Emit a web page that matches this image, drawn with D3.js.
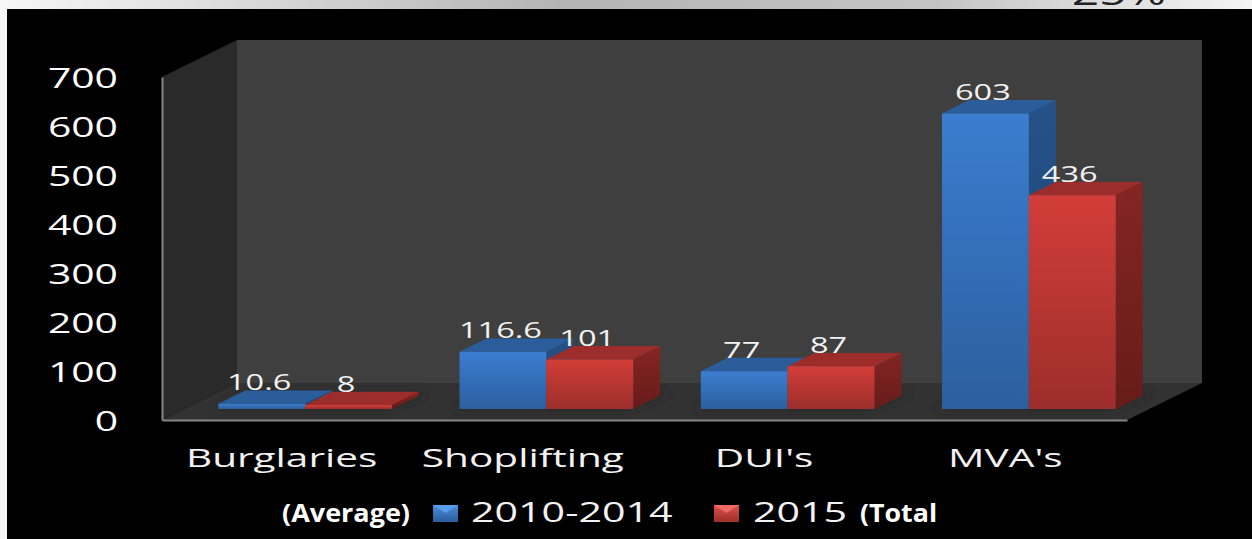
<!DOCTYPE html>
<html>
<head>
<meta charset="utf-8">
<script src="https://cdn.jsdelivr.net/npm/d3@7"></script>
<style>
    html, body { margin: 0; padding: 0; background: #000; overflow: hidden; }
    text { font-family: "Open Sans", sans-serif; }
</style>
</head>
<body>
<div id="chart"></div>
<script>
var categories = ["Burglaries", "Shoplifting", "DUI's", "MVA's"];
var seriesNames = ["2010-2014", "2015"];
var averages = [10.6, 116.6, 77, 603];
var totals = [8, 101, 87, 436];
var yTicks = [0, 100, 200, 300, 400, 500, 600, 700];

var svgWidth = 1252;
var svgHeight = 539;

var svg = d3.select("#chart")
    .append("svg")
    .attr("width", svgWidth)
    .attr("height", svgHeight)
    .style("display", "block");

var defs = svg.append("defs");

function linear(id, x2, y2, stops) {
    var g = defs.append("linearGradient").attr("id", id)
        .attr("x1", 0).attr("y1", 0).attr("x2", x2).attr("y2", y2);
    stops.forEach(function (s) {
        g.append("stop").attr("offset", s[0]).attr("stop-color", s[1]);
    });
}

linear("topBand", 1, 0, [[0, "#f6f6f6"], [0.45, "#b4b4b4"], [0.75, "#c4c4c4"], [1, "#f4f4f4"]]);
linear("blueFront", 0, 1, [[0, "#3b7dd0"], [1, "#2c5f9e"]]);
linear("redFront", 0, 1, [[0, "#d33d39"], [1, "#9c2e2b"]]);
linear("blueSide", 0, 1, [[0, "#265289"], [1, "#1d4270"]]);
linear("redSide", 0, 1, [[0, "#852522"], [1, "#661c1a"]]);
linear("blueKey", 0, 1, [[0, "#4a8ee0"], [1, "#2b5c9a"]]);
linear("redKey", 0, 1, [[0, "#e0504c"], [1, "#9c2e2b"]]);

defs.append("filter").attr("id", "soft")
    .attr("x", "-20%").attr("y", "-60%").attr("width", "140%").attr("height", "220%")
    .append("feGaussianBlur").attr("stdDeviation", 4);

// Slide frame behind the chart
svg.append("rect").attr("width", svgWidth).attr("height", svgHeight).attr("fill", "#000");
svg.append("rect").attr("width", 7).attr("height", svgHeight).attr("fill", "#f6f6f6");
svg.append("rect").attr("width", svgWidth).attr("height", 9).attr("fill", "url(#topBand)");

// Only the bottom of this slide heading is inside the crop
var heading = svg.append("text")
    .attr("x", 1119).attr("y", 5)
    .attr("text-anchor", "middle")
    .attr("font-size", 32)
    .attr("fill", "#222")
    .text("25%");

// Scales: the front plane of the box, plus how far depth shifts a point
var x = d3.scaleBand()
    .domain(categories)
    .range([162, 1127])
    .paddingInner(0.28)
    .paddingOuter(0.14);

var xSeries = d3.scaleBand()
    .domain(seriesNames)
    .range([0, x.bandwidth()]);

var y = d3.scaleLinear()
    .domain([0, 700])
    .range([420, 77]);

var depthX = d3.scaleLinear().domain([0, 1]).range([0, 75]);
var depthY = d3.scaleLinear().domain([0, 1]).range([0, -37]);

function pt(px, value, depth) {
    return [px + depthX(depth), y(value) + depthY(depth)];
}

function poly(points) {
    return points.map(function (p) { return p.join(","); }).join(" ");
}

var x0 = x.range()[0];
var x1 = x.range()[1];
var yMax = y.domain()[1];

var box = svg.append("g");

// Back wall
box.append("polygon")
    .attr("points", poly([pt(x0, 0, 1), pt(x1, 0, 1), pt(x1, yMax, 1), pt(x0, yMax, 1)]))
    .attr("fill", "#3f3f3f");

// Left wall
box.append("polygon")
    .attr("points", poly([pt(x0, 0, 0), pt(x0, 0, 1), pt(x0, yMax, 1), pt(x0, yMax, 0)]))
    .attr("fill", "#2a2a2a");

// Floor
box.append("polygon")
    .attr("points", poly([pt(x0, 0, 0), pt(x1, 0, 0), pt(x1, 0, 1), pt(x0, 0, 1)]))
    .attr("fill", "#323232");

var barFrom = 0.3;
var barTo = 0.66;

// Soft shadows on the floor
var shadows = svg.append("g").attr("filter", "url(#soft)");
categories.forEach(function (c) {
    var left = x(c);
    var right = x(c) + x.bandwidth();
    shadows.append("polygon")
        .attr("points", poly([pt(left - 8, 0, barFrom), pt(right - 6, 0, barFrom), pt(right + 4, 0, barTo + 0.08), pt(left + 2, 0, barTo + 0.08)]))
        .attr("fill", "#272727");
});

// Axes
var yAxis = svg.append("g")
    .attr("transform", `translate(${x0}, 0)`)
    .call(d3.axisLeft(y).tickValues(yTicks).tickSize(0).tickPadding(44));

var xAxis = svg.append("g")
    .attr("transform", `translate(0, ${y(0)})`)
    .call(d3.axisBottom(x).tickSize(0).tickSizeOuter(0));

svg.selectAll(".domain")
    .attr("stroke", "#858585")
    .attr("stroke-width", 2);

function stretch(selection, k) {
    selection
        .attr("textLength", function () { return this.getComputedTextLength() * k; })
        .attr("lengthAdjust", "spacingAndGlyphs");
}

yAxis.selectAll("text")
    .attr("dy", "0.39em")
    .attr("font-size", 28)
    .attr("fill", "#fff")
    .call(stretch, 1.46);

xAxis.selectAll("text")
    .attr("x", -1)
    .attr("y", 47)
    .attr("dy", 0)
    .attr("font-size", 26)
    .attr("fill", "#f2f2f2")
    .call(stretch, 1.56);

// Bars, left to right so each red bar overlaps the blue side face
var barRows = [];
categories.forEach(function (c, i) {
    barRows.push({ category: c, series: seriesNames[0], value: averages[i], front: "url(#blueFront)", side: "url(#blueSide)", top: "#2b5d9b" });
    barRows.push({ category: c, series: seriesNames[1], value: totals[i], front: "url(#redFront)", side: "url(#redSide)", top: "#9d2d2a" });
});

var bars = svg.selectAll(".bar")
    .data(barRows)
    .enter()
    .append("g")
    .attr("class", "bar");

function barLeft(d) { return x(d.category) + xSeries(d.series); }
function barRight(d) { return barLeft(d) + xSeries.bandwidth(); }

bars.append("polygon")
    .attr("points", function (d) {
        return poly([pt(barRight(d), 0, barFrom), pt(barRight(d), 0, barTo), pt(barRight(d), d.value, barTo), pt(barRight(d), d.value, barFrom)]);
    })
    .attr("fill", function (d) { return d.side; });

bars.append("polygon")
    .attr("points", function (d) {
        return poly([pt(barLeft(d), d.value, barFrom), pt(barRight(d), d.value, barFrom), pt(barRight(d), d.value, barTo), pt(barLeft(d), d.value, barTo)]);
    })
    .attr("fill", function (d) { return d.top; });

bars.append("polygon")
    .attr("points", function (d) {
        return poly([pt(barLeft(d), 0, barFrom), pt(barRight(d), 0, barFrom), pt(barRight(d), d.value, barFrom), pt(barLeft(d), d.value, barFrom)]);
    })
    .attr("fill", function (d) { return d.front; });

// Value labels sit just over the back edge of each bar top
svg.selectAll(".value")
    .data(barRows)
    .enter()
    .append("text")
    .attr("class", "value")
    .attr("x", function (d) { return pt(barLeft(d) + xSeries.bandwidth() / 2 - 2.5, d.value, barFrom)[0]; })
    .attr("y", function (d) { return pt(0, d.value, barTo)[1]; })
    .attr("text-anchor", "middle")
    .attr("font-size", 21)
    .attr("fill", "#f2f2f2")
    .text(function (d) { return d.value; })
    .call(stretch, 1.55);

// Legend
var legendY = 522;
var keys = [
    { name: seriesNames[0], fill: "url(#blueKey)", flap: "#5a9cec", keyX: 433, textX: 471 },
    { name: seriesNames[1], fill: "url(#redKey)", flap: "#ef6a64", keyX: 714, textX: 753 }
];

var legend = svg.selectAll(".key")
    .data(keys)
    .enter()
    .append("g")
    .attr("class", "key");

legend.append("rect")
    .attr("x", function (d) { return d.keyX; })
    .attr("y", legendY - 17)
    .attr("width", 25)
    .attr("height", 17)
    .attr("fill", function (d) { return d.fill; });

legend.append("polygon")
    .attr("points", function (d) {
        return poly([[d.keyX, legendY - 17], [d.keyX + 25, legendY - 17], [d.keyX + 12.5, legendY - 9]]);
    })
    .attr("fill", function (d) { return d.flap; });

legend.append("text")
    .attr("x", function (d) { return d.textX; })
    .attr("y", legendY)
    .attr("font-size", 28)
    .attr("fill", "#f2f2f2")
    .text(function (d) { return d.name; })
    .call(stretch, 1.47);

// Text boxes laid over the legend on the original slide
svg.append("text")
    .attr("x", 282).attr("y", legendY)
    .attr("font-size", 25)
    .attr("font-weight", 700)
    .attr("fill", "#fff")
    .text("(Average)")
    .call(stretch, 1.08);

svg.append("text")
    .attr("x", 860).attr("y", legendY)
    .attr("font-size", 25)
    .attr("font-weight", 700)
    .attr("fill", "#fff")
    .text("(Total")
    .call(stretch, 1.07);

heading.call(stretch, 1.5);
</script>
</body>
</html>
